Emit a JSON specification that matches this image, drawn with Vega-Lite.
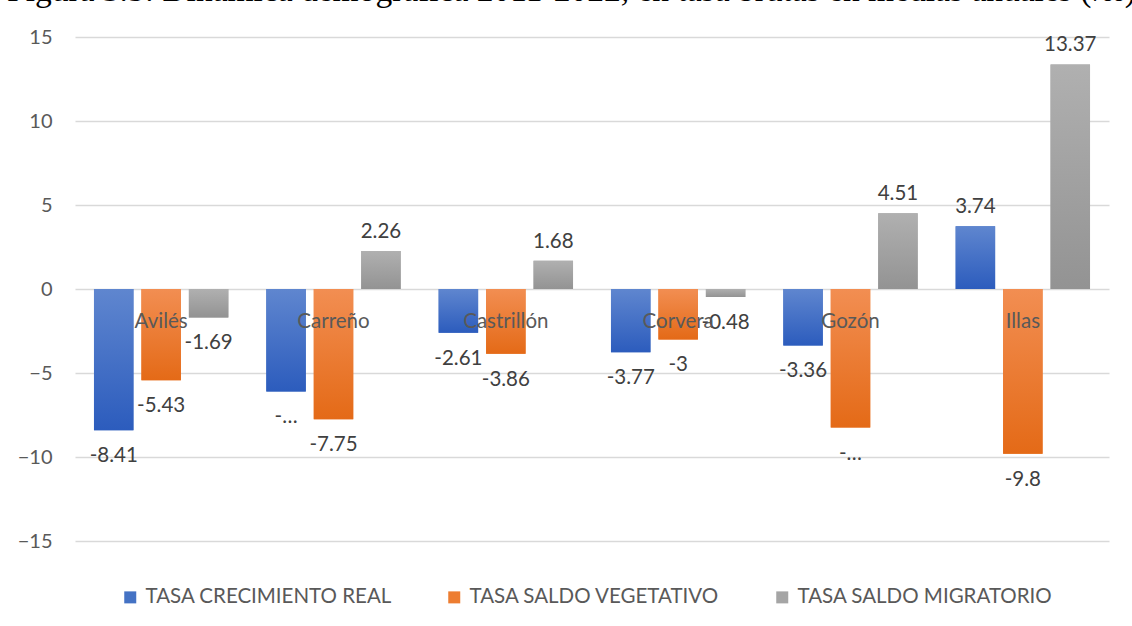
{
  "$schema": "https://vega.github.io/schema/vega-lite/v6.json",
  "width": 1034,
  "height": 504,
  "autosize": {"type": "none"},
  "padding": {"left": 75, "top": 37, "right": 23, "bottom": 85},
  "background": "white",
  "config": {"view": {"stroke": null}, "font": "Lato"},
  "title": {
    "text": "Figura 3.5: Dinámica demográfica 2011-2022, en tasa brutas en medias anuales (‰)",
    "anchor": "start",
    "frame": "group",
    "font": "Liberation Serif",
    "fontSize": 33.5,
    "fontWeight": "normal",
    "color": "black",
    "baseline": "alphabetic",
    "offset": 0,
    "dx": -68,
    "dy": 7
  },
  "data": {
    "values": [
      {"Municipio": "Avilés", "Serie": "TASA CRECIMIENTO REAL", "Valor": -8.41, "Etiqueta": "-8.41"},
      {"Municipio": "Avilés", "Serie": "TASA SALDO VEGETATIVO", "Valor": -5.43, "Etiqueta": "-5.43"},
      {"Municipio": "Avilés", "Serie": "TASA SALDO MIGRATORIO", "Valor": -1.69, "Etiqueta": "-1.69"},
      {"Municipio": "Carreño", "Serie": "TASA CRECIMIENTO REAL", "Valor": -6.1, "Etiqueta": "-…"},
      {"Municipio": "Carreño", "Serie": "TASA SALDO VEGETATIVO", "Valor": -7.75, "Etiqueta": "-7.75"},
      {"Municipio": "Carreño", "Serie": "TASA SALDO MIGRATORIO", "Valor": 2.26, "Etiqueta": "2.26"},
      {"Municipio": "Castrillón", "Serie": "TASA CRECIMIENTO REAL", "Valor": -2.61, "Etiqueta": "-2.61"},
      {"Municipio": "Castrillón", "Serie": "TASA SALDO VEGETATIVO", "Valor": -3.86, "Etiqueta": "-3.86"},
      {"Municipio": "Castrillón", "Serie": "TASA SALDO MIGRATORIO", "Valor": 1.68, "Etiqueta": "1.68"},
      {"Municipio": "Corvera", "Serie": "TASA CRECIMIENTO REAL", "Valor": -3.77, "Etiqueta": "-3.77"},
      {"Municipio": "Corvera", "Serie": "TASA SALDO VEGETATIVO", "Valor": -3, "Etiqueta": "-3"},
      {"Municipio": "Corvera", "Serie": "TASA SALDO MIGRATORIO", "Valor": -0.48, "Etiqueta": "-0.48"},
      {"Municipio": "Gozón", "Serie": "TASA CRECIMIENTO REAL", "Valor": -3.36, "Etiqueta": "-3.36"},
      {"Municipio": "Gozón", "Serie": "TASA SALDO VEGETATIVO", "Valor": -8.25, "Etiqueta": "-…"},
      {"Municipio": "Gozón", "Serie": "TASA SALDO MIGRATORIO", "Valor": 4.51, "Etiqueta": "4.51"},
      {"Municipio": "Illas", "Serie": "TASA CRECIMIENTO REAL", "Valor": 3.74, "Etiqueta": "3.74"},
      {"Municipio": "Illas", "Serie": "TASA SALDO VEGETATIVO", "Valor": -9.8, "Etiqueta": "-9.8"},
      {"Municipio": "Illas", "Serie": "TASA SALDO MIGRATORIO", "Valor": 13.37, "Etiqueta": "13.37"}
    ]
  },
  "encoding": {
    "x": {
      "field": "Municipio",
      "type": "nominal",
      "sort": null,
      "scale": {"paddingInner": 0, "paddingOuter": 0},
      "axis": {
        "title": null,
        "orient": "bottom",
        "offset": -252,
        "domain": false,
        "ticks": false,
        "labelAngle": 0,
        "labelPadding": 22,
        "labelFontSize": 20.5,
        "labelColor": "#595959",
        "labelFont": "Lato",
        "zindex": 1
      }
    },
    "xOffset": {
      "field": "Serie",
      "type": "nominal",
      "sort": ["TASA CRECIMIENTO REAL", "TASA SALDO VEGETATIVO", "TASA SALDO MIGRATORIO"],
      "scale": {"paddingInner": 0.168, "paddingOuter": 0.4}
    },
    "y": {
      "field": "Valor",
      "type": "quantitative",
      "scale": {"domain": [-15, 15], "nice": false, "zero": true},
      "axis": {
        "title": null,
        "values": [-15, -10, -5, 0, 5, 10, 15],
        "domain": false,
        "ticks": false,
        "grid": true,
        "gridColor": "#d9d9d9",
        "gridWidth": 1.5,
        "labelFontSize": 20,
        "labelColor": "#595959",
        "labelFont": "Lato",
        "labelPadding": 23,
        "zindex": 0
      }
    }
  },
  "layer": [
    {
      "mark": {"type": "bar"},
      "encoding": {
        "color": {
          "field": "Serie",
          "type": "nominal",
          "sort": ["TASA CRECIMIENTO REAL", "TASA SALDO VEGETATIVO", "TASA SALDO MIGRATORIO"],
          "scale": {
            "domain": ["TASA CRECIMIENTO REAL", "TASA SALDO VEGETATIVO", "TASA SALDO MIGRATORIO"],
            "range": ["#4472C4", "#ED7D31", "#A5A5A5"]
          },
          "legend": {
            "title": null,
            "orient": "none",
            "direction": "horizontal",
            "legendX": 45,
            "legendY": 550,
            "symbolType": "square",
            "symbolSize": 144,
            "symbolStrokeWidth": 0,
            "labelFontSize": 20.5,
            "labelFont": "Lato",
            "labelColor": "#595959",
            "labelOffset": 5,
            "columnPadding": 52,
            "labelLimit": 400
          }
        }
      }
    },
    {
      "mark": {"type": "bar"},
      "encoding": {
        "color": {
          "condition": [
            {"test": "datum.Serie === 'TASA CRECIMIENTO REAL'", "value": {"gradient": "linear", "x1": 0, "y1": 0, "x2": 0, "y2": 1, "stops": [{"offset": 0, "color": "#5F86CF"}, {"offset": 1, "color": "#2C5CBD"}]}},
            {"test": "datum.Serie === 'TASA SALDO VEGETATIVO'", "value": {"gradient": "linear", "x1": 0, "y1": 0, "x2": 0, "y2": 1, "stops": [{"offset": 0, "color": "#F28E52"}, {"offset": 1, "color": "#E46A17"}]}}
          ],
          "value": {"gradient": "linear", "x1": 0, "y1": 0, "x2": 0, "y2": 1, "stops": [{"offset": 0, "color": "#B0B0B0"}, {"offset": 1, "color": "#939393"}]}
        }
      }
    },
    {
      "transform": [{"filter": "datum.Valor >= 0"}],
      "mark": {"type": "text", "baseline": "alphabetic", "dy": -13, "fontSize": 20.5, "font": "Lato", "color": "#404040"},
      "encoding": {"text": {"field": "Etiqueta", "type": "nominal"}}
    },
    {
      "transform": [{"filter": "datum.Valor < 0"}],
      "mark": {"type": "text", "baseline": "alphabetic", "dy": 32, "fontSize": 20.5, "font": "Lato", "color": "#404040"},
      "encoding": {"text": {"field": "Etiqueta", "type": "nominal"}}
    }
  ]
}
